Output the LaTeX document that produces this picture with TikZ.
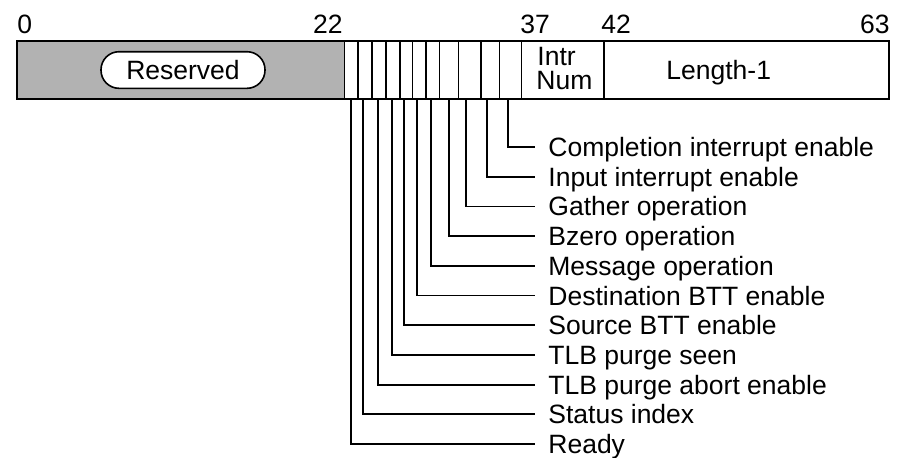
\documentclass[tikz,border=0pt]{standalone}
\usepackage{fontspec}
\setmainfont{Liberation Sans}
\begin{document}
\begin{tikzpicture}[x=0.5pt,y=-0.5pt,
  font=\fontsize{13.25}{15}\selectfont,
  lbl/.style={anchor=base west, inner sep=0pt},
  num/.style={inner sep=0pt},
  lead/.style={line width=0.9pt},
  frame/.style={line width=1pt},
  divider/.style={line width=0.8pt},
  resbox/.style={draw, fill=white, rounded corners=9pt, minimum width=82pt,
    minimum height=18.3pt, inner sep=0pt, line width=0.8pt}]
\useasboundingbox (0,0) rectangle (897,457);
% register
\fill[black!30] (17,40.5) rectangle (344.5,98.5);
\draw[frame] (17,40.5) rectangle (889,98.5);
\foreach \x in {344.5,358,372,386,400,412.5,426,439.5,458.5,481,499.5,521.5,604}
  \draw[divider] (\x,40.5) -- (\x,98.5);
\node[resbox] (res) at (183,70) {Reserved};
% bit numbers
\node[num, anchor=base west] (n0) at (17,33) {0};
\node[num, anchor=base east] (n22) at (343,33) {22};
\node[num, anchor=base west] (n37) at (520,33) {37};
\node[num, anchor=base west] (n42) at (601,33) {42};
\node[num, anchor=base east] (n63) at (890,33) {63};
% field texts
\node[lbl] (intr) at (537,65) {Intr};
\node[lbl] (numtxt) at (536,89.3) {Num};
\node[lbl] (len) at (666,79) {Length-1};
% leaders
\foreach \x/\t [count=\i from 0] in {
  508/Completion interrupt enable,
  487/Input interrupt enable,
  466/Gather operation,
  449/Bzero operation,
  431/Message operation,
  417/Destination BTT enable,
  404/Source BTT enable,
  392/TLB purge seen,
  378/TLB purge abort enable,
  363/Status index,
  351/Ready}{
  \pgfmathsetmacro{\yy}{147+29.7*\i}
  \coordinate (s\i) at (\x,98.5);
  \coordinate (e\i) at (535,\yy);
  \node[lbl] (t\i) at (548,\yy+9.5) {\t};
  \draw[lead] (s\i) |- (e\i);
}
\end{tikzpicture}
\end{document}
